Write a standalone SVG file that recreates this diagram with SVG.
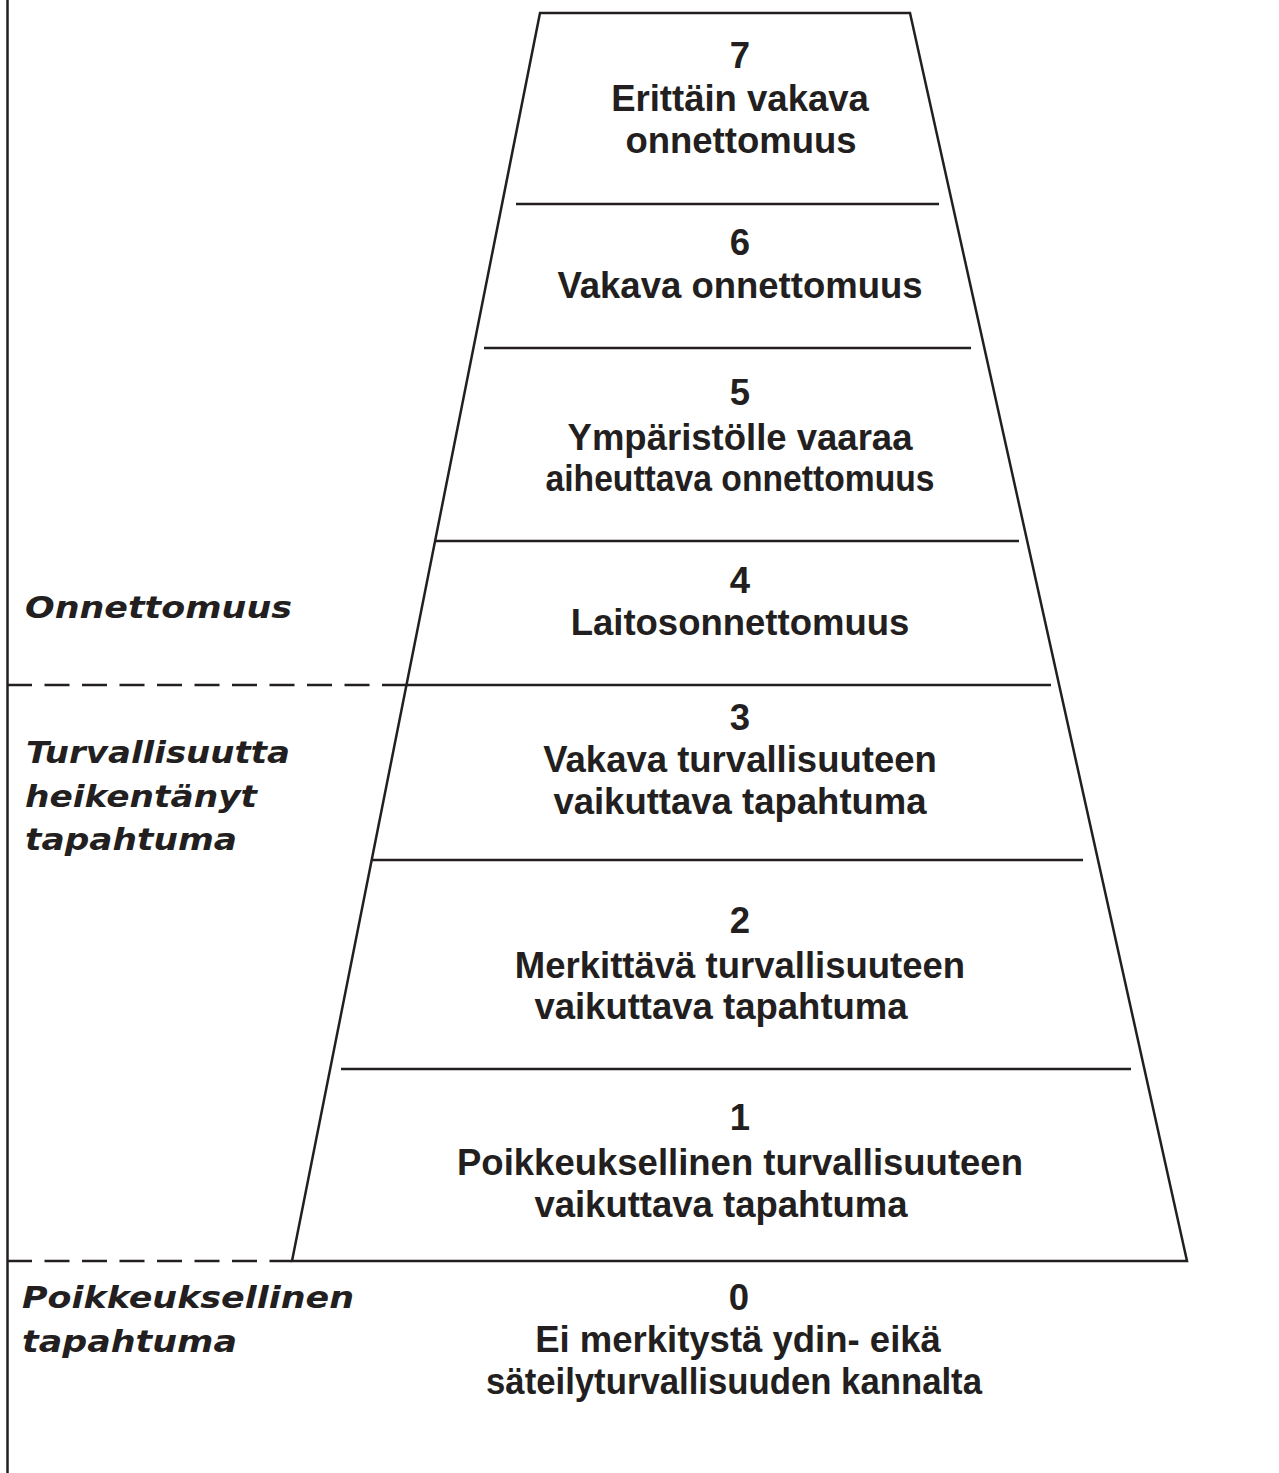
<svg xmlns="http://www.w3.org/2000/svg" width="1279" height="1473" viewBox="0 0 1279 1473">
<style>
.ln{stroke:#231f20;stroke-width:2.5;fill:none}
.ds{stroke:#231f20;stroke-width:2.5;fill:none;stroke-dasharray:25 12.5}
.t{font-family:"Liberation Sans",Arial,sans-serif;font-weight:bold;font-size:36.5px;fill:#231f20;text-anchor:middle}
.c{font-family:"DejaVu Sans","Liberation Sans",sans-serif;font-weight:bold;font-style:italic;font-size:30.5px;fill:#231f20}
</style>
<rect width="1279" height="1473" fill="#ffffff"/>
<g id="frame">
<line class="ln" x1="7.5" y1="0" x2="7.5" y2="1473"/>
<polygon class="ln" points="292,1261 540,13 910,13 1187,1261"/>
<line class="ln" x1="516" y1="204" x2="939" y2="204"/>
<line class="ln" x1="484" y1="348" x2="971" y2="348"/>
<line class="ln" x1="436" y1="541" x2="1019" y2="541"/>
<line class="ln" x1="405" y1="685" x2="1051" y2="685"/>
<line class="ln" x1="372" y1="860" x2="1083" y2="860"/>
<line class="ln" x1="341" y1="1069" x2="1131" y2="1069"/>
</g>
<g id="connectors">
<line class="ds" x1="7" y1="685" x2="405" y2="685"/>
<line class="ds" x1="7" y1="1261" x2="292" y2="1261"/>
</g>
<g id="level7">
<text class="t" x="740" y="68">7</text>
<text class="t" x="740" y="111">Erittäin vakava</text>
<text class="t" x="741" y="153">onnettomuus</text>
</g>
<g id="level6">
<text class="t" x="740" y="255">6</text>
<text class="t" x="740" y="298">Vakava onnettomuus</text>
</g>
<g id="level5">
<text class="t" x="740" y="405">5</text>
<text class="t" x="740" y="450">Ympäristölle vaaraa</text>
<text class="t" x="740" y="491" textLength="389" lengthAdjust="spacingAndGlyphs">aiheuttava onnettomuus</text>
</g>
<g id="level4">
<text class="t" x="740" y="593">4</text>
<text class="t" x="740" y="635">Laitosonnettomuus</text>
</g>
<g id="level3">
<text class="t" x="740" y="730">3</text>
<text class="t" x="740" y="772">Vakava turvallisuuteen</text>
<text class="t" x="740" y="814">vaikuttava tapahtuma</text>
</g>
<g id="level2">
<text class="t" x="740" y="933">2</text>
<text class="t" x="740" y="978">Merkittävä turvallisuuteen</text>
<text class="t" x="721" y="1019">vaikuttava tapahtuma</text>
</g>
<g id="level1">
<text class="t" x="740" y="1130">1</text>
<text class="t" x="740" y="1175">Poikkeuksellinen turvallisuuteen</text>
<text class="t" x="721" y="1217">vaikuttava tapahtuma</text>
</g>
<g id="level0">
<text class="t" x="739" y="1310">0</text>
<text class="t" x="738" y="1352">Ei merkitystä ydin- eikä</text>
<text class="t" x="734" y="1394" textLength="496" lengthAdjust="spacingAndGlyphs">säteilyturvallisuuden kannalta</text>
</g>
<g id="category-onnettomuus">
<text class="c" x="25" y="618" textLength="267" lengthAdjust="spacingAndGlyphs">Onnettomuus</text>
</g>
<g id="category-turvallisuutta">
<text class="c" x="26" y="763" textLength="264" lengthAdjust="spacingAndGlyphs">Turvallisuutta</text>
<text class="c" x="25" y="807" textLength="232" lengthAdjust="spacingAndGlyphs">heikentänyt</text>
<text class="c" x="25" y="850" textLength="212" lengthAdjust="spacingAndGlyphs">tapahtuma</text>
</g>
<g id="category-poikkeuksellinen">
<text class="c" x="22" y="1308" textLength="332" lengthAdjust="spacingAndGlyphs">Poikkeuksellinen</text>
<text class="c" x="22" y="1352" textLength="215" lengthAdjust="spacingAndGlyphs">tapahtuma</text>
</g>
</svg>
